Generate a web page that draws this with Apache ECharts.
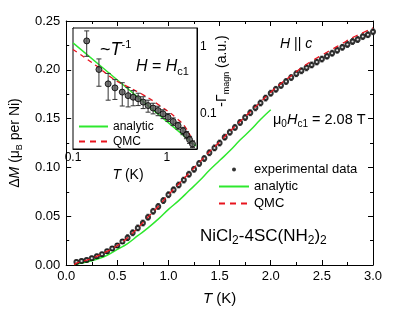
<!DOCTYPE html>
<html><head><meta charset="utf-8">
<script src="https://cdn.jsdelivr.net/npm/echarts@6/dist/echarts.min.js"></script>
<style>html,body{margin:0;padding:0;background:#fff}#c{width:415px;height:313px}</style>
</head><body><div id="c"></div>
<script>
// ---- main panel data ----
const mainT = [0.10,0.15,0.20,0.25,0.30,0.35,0.40,0.45,0.50,0.55,0.60,0.65,0.70,0.75,0.80,0.85,0.90,0.95,1.00,1.05,1.10,1.15,1.20,1.25,1.30,1.35,1.40,1.45,1.50,1.55,1.60,1.65,1.70,1.75,1.80,1.85,1.90,1.95,2.00,2.05,2.10,2.15,2.20,2.25,2.30,2.35,2.40,2.45,2.50,2.55,2.60,2.65,2.70,2.75,2.80,2.85,2.90,2.95,3.00];
const mainM = [0.003,0.004,0.005,0.007,0.009,0.011,0.014,0.017,0.020,0.024,0.028,0.033,0.038,0.043,0.049,0.055,0.060,0.066,0.072,0.077,0.082,0.087,0.093,0.098,0.104,0.109,0.115,0.120,0.125,0.131,0.136,0.141,0.146,0.151,0.156,0.161,0.166,0.171,0.176,0.180,0.184,0.188,0.192,0.196,0.199,0.202,0.205,0.208,0.211,0.214,0.217,0.220,0.223,0.226,0.229,0.231,0.234,0.236,0.239];
const mainErr = [0.002,0.002,0.002,0.002,0.002,0.002,0.002,0.002,0.002,0.002,0.003,0.003,0.003,0.003,0.003,0.003,0.003,0.003,0.003,0.003,0.003,0.003,0.003,0.003,0.003,0.003,0.003,0.003,0.003,0.003,0.003,0.003,0.003,0.003,0.003,0.003,0.003,0.003,0.003,0.003,0.003,0.003,0.003,0.003,0.003,0.003,0.003,0.003,0.003,0.003,0.003,0.003,0.003,0.003,0.003,0.003,0.003,0.003,0.003];
const analyticT = [0.08,0.1,0.2,0.3,0.4,0.5,0.6,0.7,0.8,0.9,1.0,1.1,1.2,1.3,1.4,1.5,1.6,1.7,1.8,1.9,2.0];
const analyticM = [0,0.001,0.003,0.006,0.010,0.016,0.022,0.030,0.038,0.047,0.057,0.066,0.076,0.086,0.097,0.107,0.117,0.128,0.138,0.149,0.159];
const qmcT = [0.08,0.1,0.2,0.3,0.4,0.5,0.6,0.7,0.8,0.9,1.0,1.1,1.2,1.3,1.4,1.5,1.6,1.7,1.8,1.9,2.0,2.1,2.2,2.3,2.4,2.5,2.6,2.7,2.8,2.9,3.0];
const qmcM = [0,0.002,0.005,0.009,0.014,0.020,0.028,0.038,0.049,0.060,0.072,0.083,0.094,0.105,0.116,0.126,0.137,0.147,0.157,0.167,0.177,0.186,0.194,0.202,0.209,0.215,0.221,0.227,0.233,0.238,0.243];
const mainXTicks = [0, 3, 0.5];      // min, max, step
const mainYTicks = [0, 0.25, 0.05];

// ---- inset data ----
const insetT = [0.140,0.189,0.237,0.280,0.335,0.387,0.438,0.495,0.560,0.632,0.715,0.808,0.913,1.03,1.17,1.32,1.49,1.62,1.75,1.88];
const insetG = [1.22,0.458,0.28,0.244,0.211,0.187,0.177,0.168,0.150,0.133,0.122,0.112,0.100,0.089,0.077,0.067,0.056,0.0487,0.0413,0.0357];
const insetErr = [0.5,0.2,0.12,0.08,0.08,0.06,0.045,0.035,0.03,0.027,0.022,0.018,0.015,0.012,0.01,0.008,0.007,0.006,0.005,0.004];
const insetAnalyticT = [0.1,0.2,0.5,1.0,2.05];
const insetAnalyticG = [1.14,0.507,0.174,0.0772,0.0332];
const insetQmcT = [0.1,0.179,0.268,0.372,0.56,0.84,1.27,1.62,1.9];
const insetQmcG = [0.91,0.515,0.333,0.259,0.192,0.133,0.086,0.060,0.0377];
const insetXRange = [0.1, 2.1];
const insetYRange = [0.03, 1.9];

const FONT = 'Liberation Sans, Arial, sans-serif';
const GREEN = '#2ee82e';
const RED = '#e8141e';
const chart = echarts.init(document.getElementById('c'), null, {renderer:'canvas'});

function pairs(a, b){ return a.map((v,i)=>[v,b[i]]); }
function triples(a, b, c){ return a.map((v,i)=>[v,b[i],c[i]]); }

function errRender(color, cap){
  return function(params, api){
    const x = api.value(0), y = api.value(1), e = api.value(2);
    const p1 = api.coord([x, y + e]);
    const p2 = api.coord([x, y - e]);
    const st = {stroke: color, lineWidth: 1};
    return {type:'group', children:[
      {type:'line', shape:{x1:p1[0],y1:p1[1],x2:p2[0],y2:p2[1]}, style:st},
      {type:'line', shape:{x1:p1[0]-cap,y1:p1[1],x2:p1[0]+cap,y2:p1[1]}, style:st},
      {type:'line', shape:{x1:p2[0]-cap,y1:p2[1],x2:p2[0]+cap,y2:p2[1]}, style:st}
    ]};
  };
}

const axLine = {show:true, onZero:false, lineStyle:{color:'#000', width:1}};
const tickIn = {show:true, inside:true, length:5, lineStyle:{color:'#000'}};
const minorIn = {show:true, splitNumber:2, length:3, lineStyle:{color:'#000'}};
const noLabel = {show:false};
const logLabel = v => {
  if (Math.abs(v - 1) < 1e-6) return '1';
  if (Math.abs(v - 0.1) < 1e-7) return '0.1';
  return '';
};
function rich(size, sub){
  return {
    n:{fontFamily:FONT, fontSize:size, color:'#000', lineHeight:size+4},
    i:{fontFamily:FONT, fontSize:size, color:'#000', fontStyle:'italic', lineHeight:size+4},
    s:{fontFamily:FONT, fontSize:sub, color:'#000', lineHeight:sub+1, verticalAlign:'bottom'},
    sup:{fontFamily:FONT, fontSize:sub, color:'#000', lineHeight:sub+1, verticalAlign:'top'}
  };
}
const hideSym = {color:'rgba(0,0,0,0)', borderWidth:0, opacity:0};

const option = {
  backgroundColor:'#fff',
  animation:false,
  grid:[
    {left:63, top:21, width:310, height:244, show:false},
    {left:73, top:28, width:124, height:121, show:true, backgroundColor:'#fff', borderColor:'#000', borderWidth:1, z:3}
  ],
  xAxis:[
    {gridIndex:0, type:'value', min:mainXTicks[0], max:mainXTicks[1], interval:mainXTicks[2], position:'bottom',
     axisLine:axLine, axisTick:tickIn, minorTick:minorIn, splitLine:{show:false},
     axisLabel:{color:'#000', fontFamily:FONT, fontSize:13, margin:5, formatter:v=>v.toFixed(1)},
     name:'{i|T}{n| (K)}', nameLocation:'middle', nameGap:24,
     nameTextStyle:{rich:rich(15,10)}},
    {gridIndex:0, type:'value', min:mainXTicks[0], max:mainXTicks[1], interval:mainXTicks[2], position:'top',
     axisLine:axLine, axisTick:tickIn, minorTick:minorIn, splitLine:{show:false}, axisLabel:noLabel},
    {gridIndex:1, type:'log', min:insetXRange[0], max:insetXRange[1], position:'bottom',
     axisLine:axLine, axisTick:{show:true, inside:true, length:4, lineStyle:{color:'#000'}}, splitLine:{show:false},
     axisLabel:{color:'#000', fontFamily:FONT, fontSize:12, margin:3, formatter:logLabel, showMinLabel:true}},
    {gridIndex:1, type:'log', min:insetXRange[0], max:insetXRange[1], position:'top',
     axisLine:axLine, axisTick:{show:true, inside:true, length:4, lineStyle:{color:'#000'}}, splitLine:{show:false}, axisLabel:noLabel}
  ],
  yAxis:[
    {gridIndex:0, type:'value', min:mainYTicks[0], max:mainYTicks[1], interval:mainYTicks[2], position:'left',
     axisLine:axLine, axisTick:tickIn, minorTick:minorIn, splitLine:{show:false},
     axisLabel:{color:'#000', fontFamily:FONT, fontSize:13, margin:6, formatter:v=>v.toFixed(2)},
     name:'{n|Δ}{i|M}{n| (μ}{s|B}{n| per Ni)}', nameLocation:'middle', nameGap:38, nameRotate:90,
     nameTextStyle:{rich:rich(14,9)}},
    {gridIndex:0, type:'value', min:mainYTicks[0], max:mainYTicks[1], interval:mainYTicks[2], position:'right',
     axisLine:axLine, axisTick:tickIn, minorTick:minorIn, splitLine:{show:false}, axisLabel:noLabel},
    {gridIndex:1, type:'log', min:insetYRange[0], max:insetYRange[1], position:'left',
     axisLine:axLine, axisTick:{show:true, inside:true, length:4, lineStyle:{color:'#000'}}, splitLine:{show:false}, axisLabel:noLabel},
    {gridIndex:1, type:'log', min:insetYRange[0], max:insetYRange[1], position:'right',
     axisLine:axLine, axisTick:{show:true, inside:true, length:4, lineStyle:{color:'#000'}}, splitLine:{show:false},
     axisLabel:{color:'#000', fontFamily:FONT, fontSize:12, margin:3, formatter:logLabel}}
  ],
  legend:[
    {left:218, top:161, orient:'vertical', itemWidth:30, itemHeight:4, itemGap:0, padding:0,
     textStyle:{fontFamily:FONT, fontSize:13, color:'#000', lineHeight:17},
     data:[{name:'experimental data', icon:'circle', itemStyle:{color:'#000', borderWidth:0}},
           {name:'analytic', itemStyle:hideSym}, {name:'QMC', itemStyle:hideSym}]},
    {left:78, top:119, orient:'vertical', itemWidth:29, itemHeight:4, itemGap:0, padding:0, z:10,
     textStyle:{fontFamily:FONT, fontSize:12, color:'#000', lineHeight:15},
     data:[{name:'analytic', itemStyle:hideSym}, {name:'QMC', itemStyle:hideSym}]}
  ],
  series:[
    {type:'custom', name:'err', xAxisIndex:0, yAxisIndex:0, renderItem:errRender('#555', 1.5),
     data:triples(mainT, mainM, mainErr), z:2, silent:true},
    {type:'scatter', name:'experimental data', xAxisIndex:0, yAxisIndex:0, symbol:'emptyCircle', symbolSize:4,
     itemStyle:{color:'#000', borderColor:'#000', borderWidth:1.2}, data:pairs(mainT, mainM), z:3},
    {type:'line', name:'analytic', xAxisIndex:0, yAxisIndex:0, symbol:'none', smooth:true,
     lineStyle:{color:GREEN, width:1.5}, itemStyle:{color:GREEN}, data:pairs(analyticT, analyticM), z:2},
    {type:'line', name:'QMC', xAxisIndex:0, yAxisIndex:0, symbol:'none', smooth:true,
     lineStyle:{color:RED, width:1.3, type:[6,5]}, itemStyle:{color:RED}, data:pairs(qmcT, qmcM), z:4},
    // inset
    {type:'line', name:'analytic', xAxisIndex:2, yAxisIndex:2, symbol:'none',
     lineStyle:{color:GREEN, width:1.5}, itemStyle:{color:GREEN}, data:pairs(insetAnalyticT, insetAnalyticG), z:5},
    {type:'line', name:'QMC', xAxisIndex:2, yAxisIndex:2, symbol:'none', smooth:true,
     lineStyle:{color:RED, width:1.3, type:[5,4]}, itemStyle:{color:RED}, data:pairs(insetQmcT, insetQmcG), z:5},
    {type:'custom', name:'insetErr', xAxisIndex:2, yAxisIndex:2, renderItem:errRender('#333', 2.5),
     data:triples(insetT, insetG, insetErr), z:6, silent:true},
    {type:'scatter', name:'inset data', xAxisIndex:2, yAxisIndex:2, symbol:'circle', symbolSize:6,
     itemStyle:{color:'#555', borderColor:'#000', borderWidth:1}, data:pairs(insetT, insetG), z:7}
  ],
  graphic:[
    {type:'text', x:100, y:50, z:20, style:{text:'{n|~}{i|T}{sup|-1}', rich:rich(18,11), verticalAlign:'middle'}},
    {type:'text', x:136, y:67, z:20, style:{text:'{i|H}{n| = }{i|H}{s|c1}', rich:rich(16,11), verticalAlign:'middle'}},
    {type:'text', x:280, y:44, z:20, style:{text:'{i|H}{n| || }{i|c}', rich:rich(14,10), verticalAlign:'middle'}},
    {type:'text', x:273, y:120, z:20, style:{text:'{n|μ}{s|0}{i|H}{s|c1}{n| = 2.08 T}', rich:rich(14.5,10), verticalAlign:'middle'}},
    {type:'text', x:200, y:236, z:20, style:{text:'{n|NiCl}{s|2}{n|-4SC(NH}{s|2}{n|)}{s|2}', rich:rich(17,12), verticalAlign:'middle'}},
    {type:'text', x:128, y:175, z:20, style:{text:'{i|T}{n| (K)}', rich:rich(14,10), align:'center', verticalAlign:'middle'}},
    {type:'text', x:222, y:71, rotation:Math.PI/2, z:20, style:{text:'{n|-Γ}{s|magn}{n| (a.u.)}', rich:rich(14,9), align:'center', verticalAlign:'middle'}}
  ]
};
chart.setOption(option);
</script></body></html>
